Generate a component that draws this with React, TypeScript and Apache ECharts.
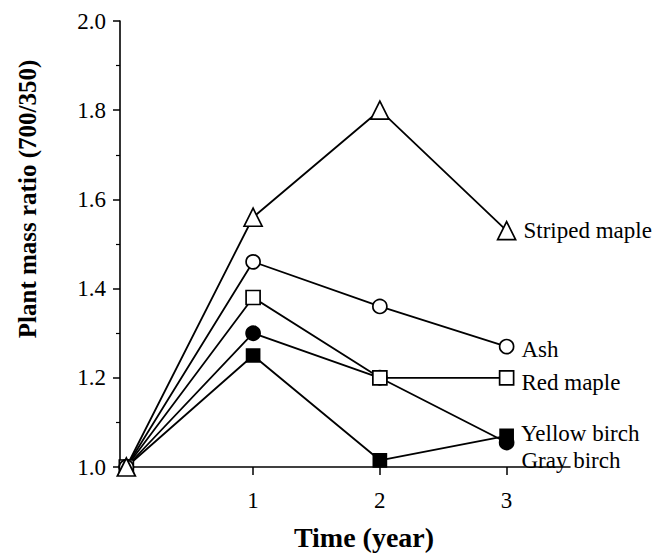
import React, { useEffect, useRef } from "react";
import * as echarts from "echarts";

const years = [0, 1, 2, 3];
const stripedMaple = [1.0, 1.56, 1.8, 1.53];
const ash = [1.0, 1.46, 1.36, 1.27];
const redMaple = [1.0, 1.38, 1.2, 1.2];
const yellowBirch = [1.0, 1.25, 1.015, 1.07];
const grayBirch = [1.0, 1.3, 1.2, 1.055];
const xTickValues = [1, 2, 3];
const xAxisTitle = "Time (year)";
const yAxisTitle = "Plant mass ratio (700/350)";

const FONT = "'Liberation Serif', 'Times New Roman', serif";

type SeriesDef = {
  name: string;
  values: number[];
  symbol: string;
  size: number;
  filled: boolean;
  labelDy: number;
};

const seriesDefs: SeriesDef[] = [
  { name: "Gray birch", values: grayBirch, symbol: "circle", size: 14, filled: true, labelDy: 18 },
  { name: "Yellow birch", values: yellowBirch, symbol: "rect", size: 13, filled: true, labelDy: -2 },
  { name: "Red maple", values: redMaple, symbol: "rect", size: 14, filled: false, labelDy: 5 },
  { name: "Ash", values: ash, symbol: "circle", size: 14, filled: false, labelDy: 3 },
  { name: "Striped maple", values: stripedMaple, symbol: "triangle", size: 18, filled: false, labelDy: 0 },
];

export default function App() {
  const ref = useRef<HTMLDivElement>(null);
  useEffect(() => {
    if (!ref.current) return;
    const chart = echarts.init(ref.current, null, { renderer: "svg" });
    const series = seriesDefs.map((s) => ({
      type: "line",
      name: s.name,
      symbol: s.symbol,
      symbolSize: s.size,
      showAllSymbol: true,
      clip: false,
      lineStyle: { color: "#000", width: 1.8 },
      itemStyle: {
        color: s.filled ? "#000" : "#fff",
        borderColor: "#000",
        borderWidth: 1.7,
      },
      data: s.values.map((v, i) => {
        const item: any = { value: [years[i], v] };
        if (i === s.values.length - 1) {
          item.label = {
            show: true,
            position: "right",
            distance: 7,
            offset: [0, s.labelDy],
            formatter: s.name,
            color: "#000",
            fontFamily: FONT,
            fontSize: 23,
          };
        }
        return item;
      }),
      emphasis: { disabled: true },
    }));

    chart.setOption({
      animation: false,
      backgroundColor: "#fff",
      grid: { left: 120, right: 92, top: 21, bottom: 89, containLabel: false },
      xAxis: {
        type: "value",
        min: -0.05,
        max: 3.5,
        splitLine: { show: false },
        axisLine: { show: true, onZero: false, lineStyle: { color: "#000", width: 1.6 } },
        axisTick: { show: true, length: 8, customValues: xTickValues, lineStyle: { color: "#000", width: 1.5 } },
        axisLabel: {
          customValues: xTickValues,
          margin: 22,
          color: "#000",
          fontFamily: FONT,
          fontSize: 23,
        },
      },
      yAxis: {
        type: "value",
        min: 1.0,
        max: 2.0,
        interval: 0.2,
        splitLine: { show: false },
        axisLine: { show: true, onZero: false, lineStyle: { color: "#000", width: 1.6 } },
        axisTick: { show: true, length: 7, lineStyle: { color: "#000", width: 1.5 } },
        minorTick: { show: true, splitNumber: 2, length: 4, lineStyle: { color: "#000", width: 1.2 } },
        axisLabel: {
          margin: 14,
          color: "#000",
          fontFamily: FONT,
          fontSize: 23,
          formatter: (v: number) => v.toFixed(1),
        },
      },
      graphic: [
        {
          type: "text",
          x: 27,
          y: 199,
          rotation: Math.PI / 2,
          style: {
            text: yAxisTitle,
            font: `bold 25px ${FONT}`,
            fill: "#000",
            align: "center",
            verticalAlign: "middle",
            textAlign: "center",
            textVerticalAlign: "middle",
          },
        },
        {
          type: "text",
          x: 364,
          y: 537,
          style: {
            text: xAxisTitle,
            font: `bold 28px ${FONT}`,
            fill: "#000",
            align: "center",
            verticalAlign: "middle",
            textAlign: "center",
            textVerticalAlign: "middle",
          },
        },
      ],
      series,
    });
    return () => chart.dispose();
  }, []);
  return (
    <div
      ref={ref}
      style={{ position: "fixed", left: 0, top: 0, width: 662, height: 556, background: "#fff" }}
    />
  );
}
